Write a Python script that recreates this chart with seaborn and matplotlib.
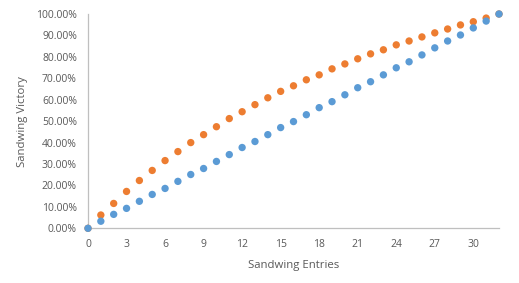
import matplotlib
matplotlib.use("Agg")
import matplotlib.pyplot as plt
import matplotlib.ticker as mticker
import seaborn as sns
import pandas as pd

entries = list(range(0, 33))
orange_vals = [0.0, 6.2, 11.6, 17.2, 22.3, 27.0, 31.6, 35.8, 40.0, 43.7, 47.4, 51.2, 54.4, 57.7,
               60.9, 63.9, 66.5, 69.3, 71.6, 74.4, 76.7, 79.1, 81.4, 83.3, 85.6, 87.4, 89.3,
               91.2, 93.0, 94.9, 96.4, 98.1, 100.0]
blue_vals = [0.0, 3.3, 6.5, 9.3, 12.6, 15.8, 18.6, 21.9, 25.1, 27.9, 31.2, 34.4, 37.7, 40.5,
             43.7, 47.0, 49.8, 53.0, 56.3, 59.1, 62.3, 65.6, 68.4, 71.6, 74.9, 77.7, 80.9,
             84.2, 87.4, 90.2, 93.5, 96.7, 100.0]
x_ticks = list(range(0, 31, 3))
y_ticks = [i / 10 for i in range(0, 11)]

df = pd.DataFrame({
    "Entries": entries * 2,
    "Victory": [v / 100 for v in orange_vals] + [v / 100 for v in blue_vals],
    "Series": ["orange"] * len(entries) + ["blue"] * len(entries),
})

sns.set_style("white")
plt.rcParams["font.family"] = ["Open Sans", "DejaVu Sans"]

fig = plt.figure(figsize=(5.19, 2.83), dpi=100)
ax = fig.add_axes([88 / 519, 1 - 228.3 / 283, (499 - 88) / 519, (228.3 - 14) / 283])

sns.scatterplot(data=df, x="Entries", y="Victory", hue="Series",
                palette={"orange": "#ED7D31", "blue": "#5B9BD5"},
                s=28, edgecolor="none", linewidth=0, legend=False, ax=ax, clip_on=False, zorder=3)

ax.set_xlim(0, 32)
ax.set_ylim(0, 1)
ax.set_xticks(x_ticks)
ax.xaxis.set_minor_locator(mticker.MultipleLocator(1))
ax.set_yticks(y_ticks)
ax.yaxis.set_major_formatter(mticker.FuncFormatter(lambda v, p: f"{v*100:.2f}%"))

for side in ["top", "right"]:
    ax.spines[side].set_visible(False)
for side in ["left", "bottom"]:
    ax.spines[side].set_color("#BFBFBF")
    ax.spines[side].set_linewidth(0.9)

ax.tick_params(axis="x", which="both", direction="out", length=4, width=0.8, color="#BFBFBF",
               labelsize=7.5, labelcolor="#595959", pad=3.5)
ax.tick_params(axis="x", which="minor", length=4)
ax.tick_params(axis="y", which="both", length=0, labelsize=7.5, labelcolor="#595959", pad=8)

ax.set_xlabel("Sandwing Entries", fontsize=8.2, color="#595959", labelpad=7.5)
ax.set_ylabel("Sandwing Victory", fontsize=8.2, color="#595959", labelpad=6)
ax.grid(False)

fig.savefig("out.png", dpi=100)
